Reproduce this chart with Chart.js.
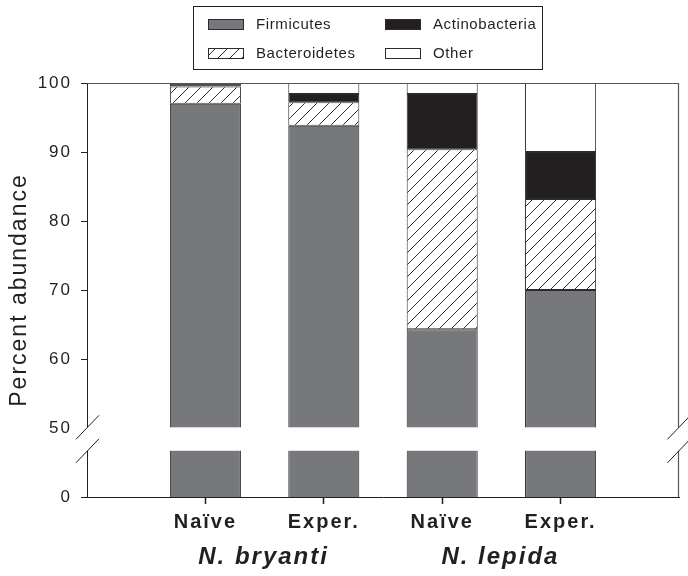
<!DOCTYPE html>
<html>
<head>
<meta charset="utf-8">
<script src="https://cdn.jsdelivr.net/npm/chart.js@4.4.0/dist/chart.umd.min.js"></script>
<style>
  html, body { margin: 0; padding: 0; background: #fff; }
  canvas { display: block; }
</style>
</head>
<body>
<canvas id="chart" width="688" height="576"></canvas>
<script>
// categories and groups
const categories = ['Naïve', 'Exper.', 'Naïve', 'Exper.'];
const species = ['N. bryanti', 'N. lepida'];

// percent abundance per phylum
const firmicutes     = [97.0, 93.8, 64.3, 70.0];
const bacteroidetes  = [2.5, 3.4, 26.1, 13.2];
const actinobacteria = [0.4, 1.2, 8.0, 6.8];
const other          = [0.1, 1.6, 1.6, 10.0];

// y axis is broken: the 0-50 part is squeezed into one step, so axis value 40 reads "0"
const yTickLabels = ['0', '50', '60', '70', '80', '90', '100'];
const breakLow = 46.7, breakHigh = 50.1;

const FONT = "'Liberation Sans', Arial, Helvetica, sans-serif";
const INK = '#231f20';

const hatch = (() => {
    const s = 12;
    const c = document.createElement('canvas');
    c.width = s; c.height = s;
    const g = c.getContext('2d');
    g.fillStyle = '#fff';
    g.fillRect(0, 0, s, s);
    g.strokeStyle = '#2b2b2b';
    g.lineWidth = 1;
    g.beginPath();
    g.moveTo(0, s); g.lineTo(s, 0);
    g.moveTo(-2, 2); g.lineTo(2, -2);
    g.moveTo(s - 2, s + 2); g.lineTo(s + 2, s - 2);
    g.stroke();
    return g.createPattern(c, 'repeat');
})();

const pad = arr => [null, ...arr, null];
const labels = ['', ...categories, ''];

const barStyle = {
    borderColor: '#2b2b2b', borderWidth: 1, borderSkipped: false,
    barPercentage: 0.6, categoryPercentage: 1
};

const breakPlugin = {
    id: 'breakPlugin',
    beforeDraw(chart) {
        chart.ctx.letterSpacing = '2px';
    },
    afterDatasetsDraw(chart) {
        const { ctx, chartArea: { left, right, top, bottom }, scales: { y } } = chart;
        const yHi = y.getPixelForValue(breakHigh);
        const yLo = y.getPixelForValue(breakLow);
        ctx.save();
        ctx.strokeStyle = '#555';
        ctx.lineWidth = 1.2;
        ctx.beginPath();
        ctx.moveTo(left, top + 0.5);
        ctx.lineTo(right - 0.5, top + 0.5);
        ctx.lineTo(right - 0.5, bottom);
        ctx.stroke();

        ctx.fillStyle = '#fff';
        ctx.fillRect(left - 8, yHi, right - left + 10, yLo - yHi);

        ctx.strokeStyle = INK;
        ctx.lineWidth = 1;
        ctx.beginPath();
        [left, right - 0.5].forEach(x => {
            [yHi, yLo].forEach(yy => {
                ctx.moveTo(x - 11, yy + 12);
                ctx.lineTo(x + 12, yy - 12);
            });
        });
        ctx.stroke();
        ctx.restore();
    },
    afterDraw(chart) {
        const { ctx, scales: { x } } = chart;
        ctx.save();
        ctx.letterSpacing = '2px';
        ctx.fillStyle = INK;
        ctx.textAlign = 'center';
        ctx.textBaseline = 'middle';
        ctx.font = `italic bold 24px ${FONT}`;
        species.forEach((name, i) => {
            const cx = (x.getPixelForValue(1 + 2 * i) + x.getPixelForValue(2 + 2 * i)) / 2;
            ctx.fillText(name, cx - 1, 557);
        });

        // legend
        ctx.strokeStyle = INK;
        ctx.lineWidth = 1;
        ctx.strokeRect(193.5, 6.5, 349, 63);
        const spots = [[208, 19], [208, 48], [385, 19], [385, 48]];
        ctx.letterSpacing = '0.6px';
        ctx.font = `15px ${FONT}`;
        ctx.textAlign = 'left';
        chart.data.datasets.forEach((ds, i) => {
            const [sx, sy] = spots[i];
            ctx.fillStyle = ds.backgroundColor;
            ctx.fillRect(sx, sy, 36, 11);
            ctx.strokeStyle = '#2b2b2b';
            ctx.strokeRect(sx + 0.5, sy + 0.5, 35, 10);
            ctx.fillStyle = INK;
            ctx.fillText(ds.label, sx + 48, sy + 6);
        });
        ctx.restore();
    }
};

new Chart(document.getElementById('chart'), {
    type: 'bar',
    data: {
        labels: labels,
        datasets: [
            { label: 'Firmicutes', data: pad(firmicutes), backgroundColor: '#77787b', ...barStyle },
            { label: 'Bacteroidetes', data: pad(bacteroidetes), backgroundColor: hatch, ...barStyle },
            { label: 'Actinobacteria', data: pad(actinobacteria), backgroundColor: '#231f20', ...barStyle },
            { label: 'Other', data: pad(other), backgroundColor: '#ffffff', ...barStyle }
        ]
    },
    options: {
        responsive: false,
        animation: false,
        layout: { padding: { top: 83, right: 9, left: 0, bottom: 0 } },
        plugins: { legend: { display: false }, tooltip: { enabled: false } },
        scales: {
            x: {
                stacked: true,
                offset: false,
                grid: {
                    offset: false,
                    drawOnChartArea: false, tickLength: 7, tickWidth: 1.5,
                    tickColor: c => (c.index === 0 || c.index === labels.length - 1) ? 'rgba(0,0,0,0)' : INK
                },
                border: { color: INK, width: 1 },
                ticks: { autoSkip: false, maxRotation: 0, padding: 6, color: INK, font: { family: FONT, size: 20, weight: 'bold' } },
                afterFit: s => { s.height = 79; }
            },
            y: {
                stacked: true,
                min: 40, max: 100,
                grid: { drawOnChartArea: false, tickLength: 6, tickColor: INK },
                border: { color: INK, width: 1 },
                ticks: {
                    stepSize: 10, padding: 9, color: INK,
                    font: { family: FONT, size: 17 },
                    callback: (v, i) => yTickLabels[i]
                },
                title: {
                    display: true, text: 'Percent abundance', color: INK,
                    font: { family: FONT, size: 23 }, padding: { top: 6, bottom: 0 }
                },
                afterFit: s => { s.width = 87; }
            }
        }
    },
    plugins: [breakPlugin]
});
</script>
</body>
</html>
